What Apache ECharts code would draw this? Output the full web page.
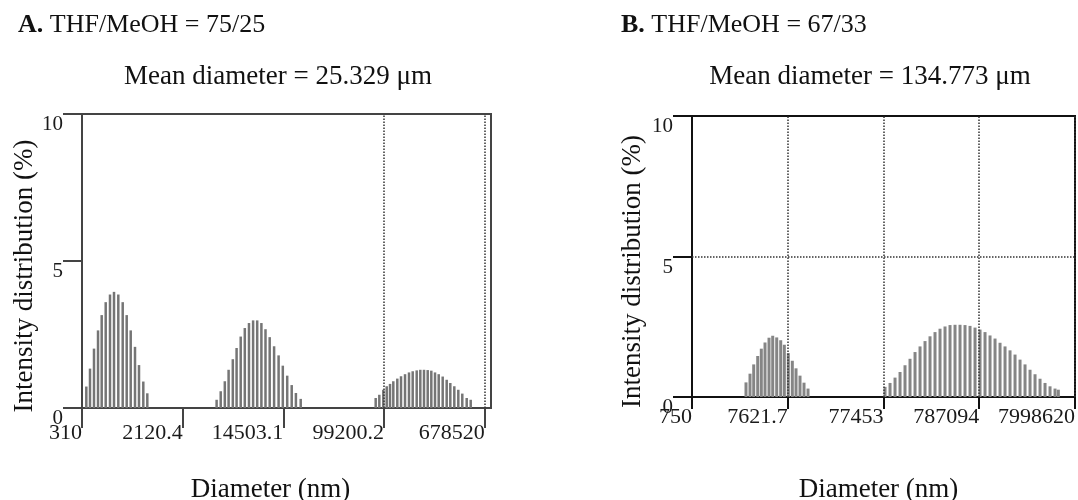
<!DOCTYPE html>
<html>
<head>
<meta charset="utf-8">
<script src="https://cdn.jsdelivr.net/npm/echarts@6/dist/echarts.min.js"></script>
<style>
html,body{margin:0;padding:0;background:#fff;}
#c{width:1078px;height:500px;}
</style>
</head>
<body>
<div id="c"></div>
<script>
// ---------- Panel A: THF/MeOH = 75/25 ----------
var leftDiameter = [
  336.6, 361.2, 389.8, 421.0, 451.6, 487.5, 529.2, 571.2, 620.1, 674.5, 728.0, 785.9, 853.1, 920.8, 999.5, 1079,
  4054, 4384, 4741, 5097, 5523, 5937, 6422, 6944, 7522, 8138, 8800, 9535, 10311, 11172, 12152, 13243, 14350, 15610, 17010, 18430, 20200,
  84580, 90630, 97820, 104400, 111200, 118400, 127800, 137200, 148100, 159800, 171500, 185100, 198300, 212800, 228400, 244700, 262600, 281800, 304100, 328200, 351700, 379600, 409700, 442100, 481000, 519200
];
var leftIntensity = [
  0.73, 1.34, 2.02, 2.64, 3.16, 3.60, 3.86, 3.95, 3.86, 3.60, 3.16, 2.64, 2.08, 1.46, 0.90, 0.50,
  0.28, 0.57, 0.91, 1.30, 1.66, 2.04, 2.43, 2.72, 2.89, 2.98, 2.98, 2.89, 2.68, 2.41, 2.10, 1.79, 1.44, 1.10, 0.78, 0.51, 0.31,
  0.34, 0.45, 0.62, 0.74, 0.82, 0.91, 1.00, 1.08, 1.15, 1.21, 1.25, 1.28, 1.30, 1.30, 1.29, 1.27, 1.21, 1.15, 1.07, 0.96, 0.85, 0.74, 0.62, 0.49, 0.34, 0.28
];
var leftTickValues = [310, 2120.4, 14503.1, 99200.2, 678520];
var leftTickLabels = ['310', '2120.4', '14503.1', '99200.2', '678520'];
var leftDottedLines = [99200.2, 678520];

// ---------- Panel B: THF/MeOH = 67/33 ----------
var rightDiameter = [
  2773, 3056, 3342, 3682, 4018, 4395, 4842, 5296, 5834, 6427, 7015, 7727, 8514, 9311, 10257, 11300, 12450,
  80350, 90730, 102400, 115600, 130400, 147200, 166200, 187600, 211700, 238900, 269700, 304400, 343600, 387800, 437700, 494000,
  557600, 629500, 710500, 802000, 905200, 1021800, 1153400, 1301900, 1469500, 1658500, 1872100, 2113000, 2385000, 2692000,
  3039000, 3430000, 3871000, 4370000, 4933000, 5343000
];
var rightIntensity = [
  0.52, 0.83, 1.16, 1.46, 1.72, 1.94, 2.11, 2.18, 2.12, 2.02, 1.86, 1.56, 1.29, 1.02, 0.76, 0.51, 0.30,
  0.36, 0.50, 0.69, 0.89, 1.13, 1.36, 1.60, 1.80, 1.99, 2.16, 2.31, 2.43, 2.51, 2.56, 2.57, 2.57,
  2.56, 2.53, 2.47, 2.40, 2.31, 2.19, 2.08, 1.93, 1.80, 1.66, 1.51, 1.33, 1.16, 0.97, 0.81, 0.65,
  0.50, 0.38, 0.30, 0.26
];
var rightTickValues = [750, 7621.7, 77453, 787094, 7998620];
var rightTickLabels = ['750', '7621.7', '77453', '787094', '7998620'];
var rightDottedX = [7621.7, 77453, 787094, 7998620];
var rightDottedY = [5];

var yTicks = [0, 5, 10];

var FONT = '"Liberation Serif", "Times New Roman", serif';

function pair(xs, ys) { return xs.map(function (x, i) { return [x, ys[i]]; }); }
function labelFor(vals, labels) {
  return function (v) {
    for (var i = 0; i < vals.length; i++) {
      if (Math.abs(v - vals[i]) / vals[i] < 1e-3) return labels[i];
    }
    return '';
  };
}

function xAxisFor(grid, min, max, tickVals, tickLabels, lineColor, tickLen, labelMargin, nameGap, namePad) {
  return {
    type: 'log', logBase: 10, gridIndex: grid, min: min, max: max,
    axisLine: { show: true, onZero: false, lineStyle: { color: lineColor, width: 2 } },
    axisTick: { show: true, customValues: tickVals, length: tickLen, lineStyle: { color: lineColor, width: 2 } },
    minorTick: { show: false },
    splitLine: { show: false },
    axisLabel: {
      customValues: tickVals, formatter: labelFor(tickVals, tickLabels),
      align: 'right', margin: labelMargin, fontSize: 22, fontFamily: FONT, color: '#1a1a1a',
      showMinLabel: true, showMaxLabel: true, hideOverlap: false
    },
    name: 'Diameter (nm)', nameLocation: 'middle', nameGap: nameGap,
    nameTextStyle: { fontSize: 27, fontFamily: FONT, color: '#111', padding: namePad }
  };
}
function yAxisFor(grid, lineColor, nameGap) {
  return {
    type: 'value', gridIndex: grid, min: yTicks[0], max: yTicks[yTicks.length - 1], interval: 5,
    axisLine: { show: true, lineStyle: { color: lineColor, width: 2 } },
    axisTick: { show: true, length: 19, lineStyle: { color: lineColor, width: 2 } },
    splitLine: { show: false },
    axisLabel: { margin: 19, verticalAlign: 'top', fontSize: 21, fontFamily: FONT, color: '#1a1a1a' },
    name: 'Intensity distribution (%)', nameLocation: 'middle', nameGap: nameGap,
    nameTextStyle: { fontSize: 27, fontFamily: FONT, color: '#111', padding: [0, 30, 0, 0] }
  };
}

var dotted = { type: 'dotted', color: '#333', width: 1.5 };

var option = {
  animation: false,
  backgroundColor: '#fff',
  title: [
    { text: '{b|A.} THF/MeOH = 75/25', left: 13, top: 7,
      textStyle: { fontSize: 26, fontWeight: 'normal', fontFamily: FONT, color: '#111',
        rich: { b: { fontSize: 26, fontWeight: 'bold', fontFamily: FONT, color: '#111' } } } },
    { text: 'Mean diameter = 25.329 μm', left: 273, textAlign: 'center', top: 58,
      textStyle: { fontSize: 27, fontWeight: 'normal', fontFamily: FONT, color: '#111' } },
    { text: '{b|B.} THF/MeOH = 67/33', left: 616, top: 7,
      textStyle: { fontSize: 26, fontWeight: 'normal', fontFamily: FONT, color: '#111',
        rich: { b: { fontSize: 26, fontWeight: 'bold', fontFamily: FONT, color: '#111' } } } },
    { text: 'Mean diameter = 134.773 μm', left: 865, textAlign: 'center', top: 58,
      textStyle: { fontSize: 27, fontWeight: 'normal', fontFamily: FONT, color: '#111' } }
  ],
  grid: [
    { left: 82, top: 114, width: 409, height: 294, show: true, borderColor: '#444', borderWidth: 2,
      backgroundColor: 'transparent', containLabel: false, outerBoundsMode: 'none' },
    { left: 692, top: 116, width: 383, height: 281, show: true, borderColor: '#111', borderWidth: 2,
      backgroundColor: 'transparent', containLabel: false, outerBoundsMode: 'none' }
  ],
  xAxis: [
    xAxisFor(0, 310, 765000, leftTickValues, leftTickLabels, '#444', 20, 14, 68, [0, 32, 0, 0]),
    xAxisFor(1, 750, 7998620, rightTickValues, rightTickLabels, '#111', 12, 9, 79, [0, 10, 0, 0])
  ],
  yAxis: [
    yAxisFor(0, '#444', 44),
    yAxisFor(1, '#111', 46)
  ],
  series: [
    {
      type: 'bar', xAxisIndex: 0, yAxisIndex: 0, barWidth: 2.5,
      itemStyle: { color: '#757575' },
      data: pair(leftDiameter, leftIntensity),
      markLine: {
        silent: true, symbol: 'none', label: { show: false },
        lineStyle: dotted,
        data: leftDottedLines.map(function (v) { return { xAxis: v }; })
      }
    },
    {
      type: 'bar', xAxisIndex: 1, yAxisIndex: 1, barWidth: 3,
      itemStyle: { color: '#858585' },
      data: pair(rightDiameter, rightIntensity),
      markLine: {
        silent: true, symbol: 'none', label: { show: false },
        lineStyle: dotted,
        data: rightDottedX.map(function (v) { return { xAxis: v }; })
          .concat(rightDottedY.map(function (v) { return { yAxis: v }; }))
      }
    }
  ]
};

var chart = echarts.init(document.getElementById('c'), null, { renderer: 'canvas' });
chart.setOption(option);
</script>
</body>
</html>
